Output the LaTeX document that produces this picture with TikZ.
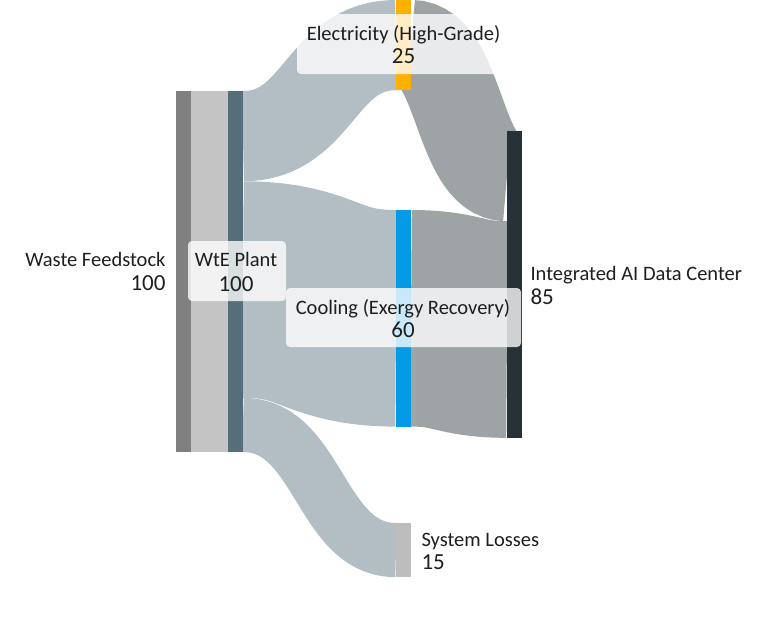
\documentclass[tikz,border=0pt]{standalone}
\usepackage{fontspec}
\setmainfont{Carlito}
\usetikzlibrary{calc}
\definecolor{cwaste}{HTML}{808080}
\definecolor{cwastelink}{HTML}{C4C4C4}
\definecolor{cwte}{HTML}{546E7A}
\definecolor{cwtelink}{HTML}{B2BEC3}
\definecolor{celec}{HTML}{FFB000}
\definecolor{ccool}{HTML}{039BE5}
\definecolor{closs}{HTML}{BDBDBD}
\definecolor{cai}{HTML}{263238}
\definecolor{cailink}{HTML}{9EA3A6}
\definecolor{ctext}{HTML}{1E1E1E}
\newcommand{\sankeylink}[4]{%
  \draw[#1, line width=#2, line cap=butt] let \p1=(#3), \p2=(#4), \n1={0.5*\x1+0.5*\x2} in
    (\p1) .. controls (\n1,\y1) and (\n1,\y2) .. (\p2);}
\tikzset{
  bar/.style={rectangle, inner sep=0pt, outer sep=0pt, minimum width=15pt, anchor=north west, draw=none},
  labelbox/.style={rectangle, rounded corners=4pt, fill=white, fill opacity=0.78, inner sep=0pt, outer sep=0pt, anchor=north west, draw=none},
  nametext/.style={inner sep=0pt, outer sep=0pt, text=ctext, font=\fontsize{20.5}{24}\selectfont},
  valtext/.style={inner sep=0pt, outer sep=0pt, text=ctext, font=\fontsize{23}{26}\selectfont},
}
\begin{document}
\begin{tikzpicture}[x=1pt,y=-1pt]
\useasboundingbox (0,0) rectangle (768,632);
% nodes (bars)
\node[bar, minimum height=361pt] (waste) at (176,91) {};
\node[bar, minimum height=361pt] (wte) at (228,91) {};
\node[bar, minimum height=90.25pt] (elec) at (396,0) {};
\node[bar, minimum height=216.6pt] (cool) at (396,210) {};
\node[bar, minimum height=54.15pt] (loss) at (396,523) {};
\node[bar, minimum height=306.85pt] (ai) at (507,131) {};
% link centre points on the shared sides
\coordinate (wteE) at ($(wte.north east)+(0,45.125)$);
\coordinate (wteC) at ($(wte.north east)+(0,198.55)$);
\coordinate (wteL) at ($(wte.north east)+(0,333.925)$);
\coordinate (aiE) at ($(ai.north west)+(0,45.125)$);
\coordinate (aiC) at ($(ai.north west)+(0,198.55)$);
% links
\sankeylink{cwastelink}{361pt}{waste.east}{wte.west}
\sankeylink{cwtelink}{90.25pt}{wteE}{elec.west}
\sankeylink{cwtelink}{216.6pt}{wteC}{cool.west}
\sankeylink{cwtelink}{54.15pt}{wteL}{loss.west}
\sankeylink{cailink}{90.25pt}{elec.east}{aiE}
\sankeylink{cailink}{216.6pt}{cool.east}{aiC}
% bars on top of links
\fill[cwaste] (waste.north west) rectangle (waste.south east);
\fill[cwte] (wte.north west) rectangle (wte.south east);
\fill[celec] (elec.north west) rectangle (elec.south east);
\fill[ccool] (cool.north west) rectangle (cool.south east);
\fill[closs] (loss.north west) rectangle (loss.south east);
\fill[cai] (ai.north west) rectangle (ai.south east);
% label boxes
\node[labelbox, minimum width=98pt, minimum height=60pt] (wtebox) at (188,241) {};
\node[labelbox, minimum width=235pt, minimum height=59pt] (coolbox) at (286,288) {};
\node[labelbox, minimum width=213pt, minimum height=60pt] (elecbox) at (297,14) {};
% labels
\node[nametext, anchor=base east] (wastename) at (165.5,266) {Waste Feedstock};
\node[valtext, anchor=base east] (wasteval) at (165.5,290) {100};
\node[nametext, anchor=base] (wtename) at (236,266) {WtE Plant};
\node[valtext, anchor=base] (wteval) at (236,291) {100};
\node[nametext, anchor=base] (elecname) at (403.5,40) {Electricity (High-Grade)};
\node[valtext, anchor=base] (elecval) at (403.5,63) {25};
\node[nametext, anchor=base] (coolname) at (403,314) {Cooling (Exergy Recovery)};
\node[valtext, anchor=base] (coolval) at (403,337) {60};
\node[nametext, anchor=base west] (ainame) at (530.5,280) {Integrated AI Data Center};
\node[valtext, anchor=base west] (aival) at (530.5,304) {85};
\node[nametext, anchor=base west] (lossname) at (421.5,546) {System Losses};
\node[valtext, anchor=base west] (lossval) at (421.5,569) {15};
\end{tikzpicture}
\end{document}
